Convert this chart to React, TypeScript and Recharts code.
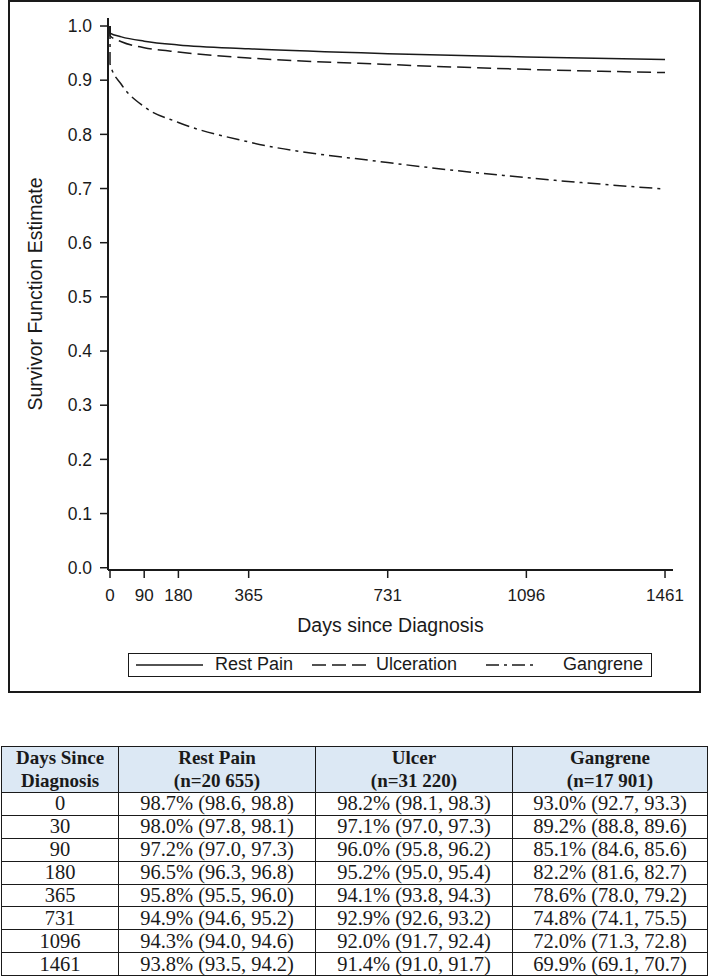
import React from 'react';
import { LineChart, Line, XAxis, YAxis } from 'recharts';

// survival (%) at each day, with 95% CI
const DAYS = [0, 30, 90, 180, 365, 731, 1096, 1461];
const REST_PAIN = [98.7, 98.0, 97.2, 96.5, 95.8, 94.9, 94.3, 93.8];
const REST_PAIN_LO = [98.6, 97.8, 97.0, 96.3, 95.5, 94.6, 94.0, 93.5];
const REST_PAIN_HI = [98.8, 98.1, 97.3, 96.8, 96.0, 95.2, 94.6, 94.2];
const ULCER = [98.2, 97.1, 96.0, 95.2, 94.1, 92.9, 92.0, 91.4];
const ULCER_LO = [98.1, 97.0, 95.8, 95.0, 93.8, 92.6, 91.7, 91.0];
const ULCER_HI = [98.3, 97.3, 96.2, 95.4, 94.3, 93.2, 92.4, 91.7];
const GANGRENE = [93.0, 89.2, 85.1, 82.2, 78.6, 74.8, 72.0, 69.9];
const GANGRENE_LO = [92.7, 88.8, 84.6, 81.6, 78.0, 74.1, 71.3, 69.1];
const GANGRENE_HI = [93.3, 89.6, 85.6, 82.7, 79.2, 75.5, 72.8, 70.7];
const GROUP_N = ['20 655', '31 220', '17 901'];

const START_VALUE = 1.0;
const X_TICKS = [0, 90, 180, 365, 731, 1096, 1461];
const Y_TICKS = [0, 0.1, 0.2, 0.3, 0.4, 0.5, 0.6, 0.7, 0.8, 0.9, 1.0];

const chartData = [
  { day: 0, rest: START_VALUE, ulcer: START_VALUE, gangrene: START_VALUE },
  ...DAYS.map((d, i) => ({
    day: d,
    rest: REST_PAIN[i] / 100,
    ulcer: ULCER[i] / 100,
    gangrene: GANGRENE[i] / 100,
  })),
];

const SANS = '"Liberation Sans", Arial, sans-serif';
const SERIF = '"Liberation Serif", "Times New Roman", serif';
const INK = '#1a1a1a';

const ULCER_DASH = '14 6';
const GANGRENE_DASH = '13 5 3 5';

const cell = (v: number, lo: number, hi: number) =>
  `${v.toFixed(1)}% (${lo.toFixed(1)}, ${hi.toFixed(1)})`;

const LegendSample = ({ width, dash }: { width: number; dash?: string }) => (
  <svg width={width} height={4} style={{ display: 'block' }}>
    <line x1={0} y1={2} x2={width} y2={2} stroke={INK} strokeWidth={1.5} strokeDasharray={dash} />
  </svg>
);

const App: React.FC = () => {
  const td: React.CSSProperties = {
    borderLeft: `1.5px solid ${INK}`,
    borderRight: `1.5px solid ${INK}`,
    borderBottom: `1.5px solid ${INK}`,
    padding: 0,
    textAlign: 'center',
    height: 21.9,
    lineHeight: '21px',
    fontSize: 20.5,
    overflow: 'hidden',
    whiteSpace: 'nowrap',
  };
  const th: React.CSSProperties = {
    border: `1.5px solid ${INK}`,
    padding: 0,
    textAlign: 'center',
    height: 44.5,
    lineHeight: '22.5px',
    fontSize: 19,
    fontWeight: 'bold',
    background: '#dce8f4',
  };

  return (
    <div style={{ position: 'absolute', left: 0, top: 0, width: 709, height: 979, background: '#fff', color: INK }}>
      {/* outer frame of the figure */}
      <div
        style={{
          position: 'absolute',
          left: 8,
          top: 0,
          width: 693,
          height: 693,
          border: `2px solid ${INK}`,
          boxSizing: 'border-box',
        }}
      />

      <div style={{ position: 'absolute', left: 0, top: 0 }}>
        <LineChart width={709} height={700} data={chartData} margin={{ top: 18, right: 36, bottom: 0, left: 0 }}>
          <XAxis
            dataKey="day"
            type="number"
            domain={[-5.3, 1482]}
            ticks={X_TICKS}
            allowDataOverflow
            height={130}
            tickSize={8}
            tickMargin={11}
            axisLine={{ stroke: INK, strokeWidth: 2 }}
            tickLine={{ stroke: INK, strokeWidth: 1.5 }}
            tick={{ fill: INK, fontSize: 17, fontFamily: SANS }}
            label={{
              value: 'Days since Diagnosis',
              position: 'insideTop',
              offset: 48,
              fill: INK,
              fontSize: 19.5,
              fontFamily: SANS,
            }}
          />
          <XAxis
            xAxisId="top"
            orientation="top"
            type="number"
            domain={[-5.3, 1482]}
            height={0}
            tick={false}
            tickLine={false}
            axisLine={{ stroke: INK, strokeWidth: 2 }}
          />
          <YAxis
            type="number"
            domain={[-0.0042, 1.0148]}
            ticks={Y_TICKS}
            allowDataOverflow
            width={108}
            tickSize={8}
            tickMargin={8}
            tickFormatter={(v: number) => v.toFixed(1)}
            axisLine={{ stroke: INK, strokeWidth: 2 }}
            tickLine={{ stroke: INK, strokeWidth: 1.5 }}
            tick={{ fill: INK, fontSize: 17.5, fontFamily: SANS }}
            label={{
              value: 'Survivor Function Estimate',
              angle: -90,
              position: 'insideLeft',
              offset: 35,
              style: { textAnchor: 'middle' },
              fill: INK,
              fontSize: 19.5,
              fontFamily: SANS,
            }}
          />
          <YAxis
            yAxisId="right"
            orientation="right"
            type="number"
            domain={[-0.0042, 1.0148]}
            width={0}
            tick={false}
            tickLine={false}
            axisLine={{ stroke: INK, strokeWidth: 2 }}
          />
          <Line
            dataKey="rest"
            type="monotone"
            stroke={INK}
            strokeWidth={1.5}
            dot={false}
            activeDot={false}
            isAnimationActive={false}
          />
          <Line
            dataKey="ulcer"
            type="monotone"
            stroke={INK}
            strokeWidth={1.5}
            strokeDasharray={ULCER_DASH}
            dot={false}
            activeDot={false}
            isAnimationActive={false}
          />
          <Line
            dataKey="gangrene"
            type="monotone"
            stroke={INK}
            strokeWidth={1.5}
            strokeDasharray={GANGRENE_DASH}
            dot={false}
            activeDot={false}
            isAnimationActive={false}
          />
        </LineChart>
      </div>

      {/* legend */}
      <div
        style={{
          position: 'absolute',
          left: 128,
          top: 653,
          width: 524,
          height: 24,
          border: `1.5px solid ${INK}`,
          boxSizing: 'border-box',
          fontFamily: SANS,
          fontSize: 18,
        }}
      >
        <div style={{ position: 'absolute', left: 7, top: 9 }}><LegendSample width={67} /></div>
        <div style={{ position: 'absolute', left: 86, top: 0, lineHeight: '21px' }}>Rest Pain</div>
        <div style={{ position: 'absolute', left: 183, top: 9 }}><LegendSample width={57} dash={ULCER_DASH} /></div>
        <div style={{ position: 'absolute', left: 247, top: 0, lineHeight: '21px' }}>Ulceration</div>
        <div style={{ position: 'absolute', left: 357, top: 9 }}><LegendSample width={50} dash={GANGRENE_DASH} /></div>
        <div style={{ position: 'absolute', left: 434, top: 0, lineHeight: '21px' }}>Gangrene</div>
      </div>

      {/* summary table */}
      <table
        style={{
          position: 'absolute',
          left: 1,
          top: 746,
          width: 706,
          borderCollapse: 'collapse',
          fontFamily: SERIF,
          color: INK,
          tableLayout: 'fixed',
        }}
      >
        <colgroup>
          <col style={{ width: 117 }} />
          <col style={{ width: 197 }} />
          <col style={{ width: 197 }} />
          <col style={{ width: 195 }} />
        </colgroup>
        <thead>
          <tr>
            <th style={th}>Days Since<br />Diagnosis</th>
            <th style={th}>Rest Pain<br />(n={GROUP_N[0]})</th>
            <th style={th}>Ulcer<br />(n={GROUP_N[1]})</th>
            <th style={th}>Gangrene<br />(n={GROUP_N[2]})</th>
          </tr>
        </thead>
        <tbody>
          {DAYS.map((d, i) => (
            <tr key={d}>
              <td style={td}>{d}</td>
              <td style={td}>{cell(REST_PAIN[i], REST_PAIN_LO[i], REST_PAIN_HI[i])}</td>
              <td style={td}>{cell(ULCER[i], ULCER_LO[i], ULCER_HI[i])}</td>
              <td style={td}>{cell(GANGRENE[i], GANGRENE_LO[i], GANGRENE_HI[i])}</td>
            </tr>
          ))}
        </tbody>
      </table>
    </div>
  );
};

export default App;
